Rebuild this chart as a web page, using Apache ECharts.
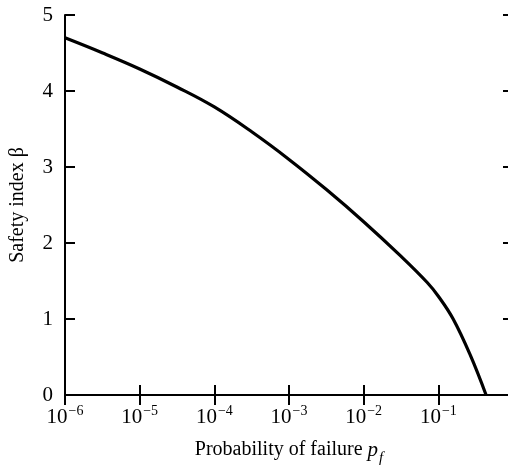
<!DOCTYPE html>
<html>
<head>
<meta charset="utf-8">
<script src="https://cdn.jsdelivr.net/npm/echarts@6/dist/echarts.min.js"></script>
<style>
  html, body { margin: 0; padding: 0; background: #fff; overflow: hidden; }
  #chart { width: 560px; height: 471px; }
</style>
</head>
<body>
<div id="chart"></div>
<script>
// Probability of failure (log scale) and the corresponding safety index
const failureProb = [1e-6, 3.2e-6, 1e-5, 3.2e-5, 1e-4, 3.2e-4, 1e-3, 3.2e-3, 1e-2, 3.2e-2, 0.071, 0.1, 0.158, 0.269, 0.436];
const safetyIndex = [4.70, 4.50, 4.29, 4.05, 3.79, 3.46, 3.10, 2.70, 2.28, 1.82, 1.48, 1.30, 1.00, 0.52, 0.0];

// Axis ticks
const xTickExponents = [-6, -5, -4, -3, -2, -1, 0];
const yTicks = [0, 1, 2, 3, 4, 5];

const FONT = '"Liberation Serif", "DejaVu Serif", serif';
const INK = '#000';

const chart = echarts.init(document.getElementById('chart'), null, { renderer: 'canvas' });

const tickStyle = { show: true, inside: true, length: 10, lineStyle: { color: INK, width: 2 } };
const lineStyle = { show: true, lineStyle: { color: INK, width: 2 } };

const xMin = Math.pow(10, xTickExponents[0]);
const xMax = Math.pow(10, xTickExponents[xTickExponents.length - 1]);

// Decade labels: "10" with a raised exponent, and plain "1" for 10^0
function powerLabel(v) {
  const e = Math.round(Math.log10(v));
  if (e === 0) return '{b|1}';
  const exp = e < 0 ? '\u2212' + Math.abs(e) : String(e);
  return '{b|10}{s|' + exp + '}';
}

chart.setOption({
  animation: false,
  backgroundColor: '#fff',
  grid: { left: 63, top: 15, width: 450, height: 390, containLabel: false },
  xAxis: [
    {
      type: 'log', logBase: 10, min: xMin, max: xMax, position: 'bottom',
      splitNumber: xTickExponents.length - 1,
      axisLine: lineStyle, axisTick: tickStyle, splitLine: { show: false },
      axisLabel: {
        show: true, margin: 9,
        formatter: powerLabel,
        rich: {
          b: { fontFamily: FONT, fontSize: 21, color: INK, lineHeight: 24, verticalAlign: 'bottom' },
          s: { fontFamily: FONT, fontSize: 14, color: INK, lineHeight: 14, verticalAlign: 'top', padding: [0, 0, 0, 1] }
        }
      },
      name: '{t|Probability of failure }{p|p}{f|f}',
      nameLocation: 'middle', nameGap: 45,
      nameTextStyle: {
        rich: {
          t: { fontFamily: FONT, fontSize: 20, color: INK, lineHeight: 26, verticalAlign: 'top' },
          p: { fontFamily: FONT, fontSize: 21, fontStyle: 'italic', color: INK, lineHeight: 26, verticalAlign: 'top' },
          f: { fontFamily: FONT, fontSize: 15, fontStyle: 'italic', color: INK, lineHeight: 15, verticalAlign: 'bottom', padding: [0, 0, 0, 1] }
        }
      }
    },
    {
      type: 'log', logBase: 10, min: xMin, max: xMax, position: 'top',
      splitNumber: xTickExponents.length - 1,
      axisLine: lineStyle, axisTick: tickStyle, axisLabel: { show: false }, splitLine: { show: false }
    }
  ],
  yAxis: [
    {
      type: 'value', min: yTicks[0], max: yTicks[yTicks.length - 1], interval: 1, position: 'left',
      axisLine: lineStyle, axisTick: tickStyle, splitLine: { show: false },
      axisLabel: { fontFamily: FONT, fontSize: 21, color: INK, margin: 12 },
      name: 'Safety index \u03b2', nameLocation: 'middle', nameGap: 37,
      nameTextStyle: { fontFamily: FONT, fontSize: 20, color: INK }
    },
    {
      type: 'value', min: yTicks[0], max: yTicks[yTicks.length - 1], interval: 1, position: 'right',
      axisLine: lineStyle, axisTick: tickStyle, axisLabel: { show: false }, splitLine: { show: false }
    }
  ],
  series: [{
    type: 'line',
    xAxisIndex: 0, yAxisIndex: 0,
    data: failureProb.map((p, i) => [p, safetyIndex[i]]),
    smooth: 0.4,
    showSymbol: false,
    lineStyle: { color: INK, width: 3.2 }
  }]
});
</script>
</body>
</html>
